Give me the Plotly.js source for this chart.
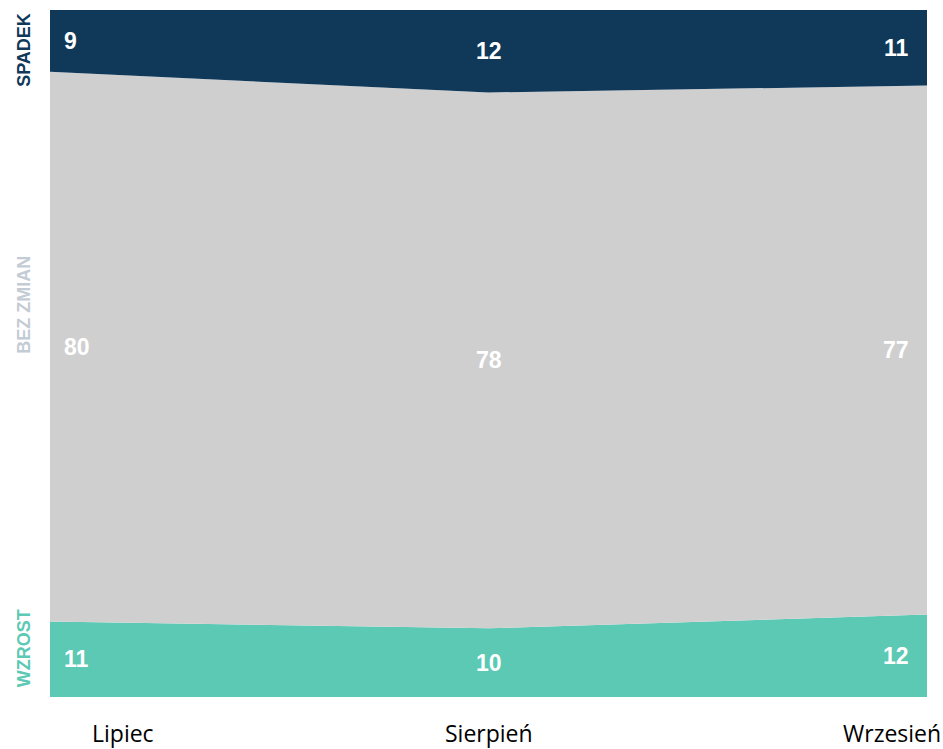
<!DOCTYPE html>
<html>
<head>
<meta charset="utf-8">
<script src="https://cdn.plot.ly/plotly-3.0.1.min.js"></script>
<style>
  html, body { margin: 0; padding: 0; background: #ffffff; }
  #chart { width: 943px; height: 749px; }
</style>
</head>
<body>
<div id="chart"></div>
<script>
// Months on the horizontal axis
const months = ['Lipiec', 'Sierpień', 'Wrzesień'];

// Share of answers (%) per month, stacked bottom to top
const wzrost   = [11, 10, 12];
const bezZmian = [80, 78, 77];
const spadek   = [9, 12, 11];

const seriesNames  = ['WZROST', 'BEZ ZMIAN', 'SPADEK'];
const seriesValues = [wzrost, bezZmian, spadek];
const fillColors   = ['#5bc9b4', '#d0cfd0', '#0f3859'];
const sideColors   = ['#5bc9b4', '#c3ccd5', '#0f3859'];

const traces = seriesValues.map((vals, i) => ({
  type: 'scatter',
  mode: 'none',
  x: months,
  y: vals,
  name: seriesNames[i],
  stackgroup: 'one',
  fillcolor: fillColors[i],
  line: { width: 0 },
  hoverinfo: 'x+y+name'
}));

// Value labels placed in the middle of each band
const annotations = [];
const base = months.map(() => 0);
seriesValues.forEach((vals) => {
  vals.forEach((v, j) => {
    const mid = base[j] + v / 2;
    base[j] += v;
    const anchor = j === 0 ? 'left' : (j === months.length - 1 ? 'right' : 'center');
    const shift = j === 0 ? 12 : (j === months.length - 1 ? -16 : 0);
    annotations.push({
      x: months[j], y: mid, xref: 'x', yref: 'y',
      text: '<b>' + v + '</b>',
      showarrow: false,
      xanchor: anchor, yanchor: 'middle', xshift: shift,
      font: { family: 'Liberation Sans, Arial, sans-serif', size: 23, color: '#ffffff' }
    });
  });
});

// Month names under the plot
months.forEach((m, j) => {
  const anchor = j === 0 ? 'left' : (j === months.length - 1 ? 'right' : 'center');
  const shift = j === 0 ? 40 : (j === months.length - 1 ? 16 : 0);
  annotations.push({
    x: m, y: 0, xref: 'x', yref: 'paper',
    yshift: -36,
    text: m, showarrow: false,
    xanchor: anchor, yanchor: 'middle', xshift: shift,
    font: { family: 'Open Sans, sans-serif', size: 23, color: '#000000' }
  });
});

// Rotated series names along the left side
const sideY = [0.071, 0.571, 0.942];
seriesNames.forEach((n, i) => {
  annotations.push({
    x: 0, y: sideY[i], xref: 'paper', yref: 'paper',
    xshift: -26,
    text: '<b>' + n + '</b>', showarrow: false, textangle: -90,
    xanchor: 'center', yanchor: 'middle',
    font: { family: 'Liberation Sans, Arial, sans-serif', size: 18, color: sideColors[i] }
  });
});

const layout = {
  width: 943, height: 749,
  margin: { l: 50, r: 16, t: 10, b: 52 },
  paper_bgcolor: '#ffffff',
  plot_bgcolor: '#ffffff',
  showlegend: false,
  xaxis: {
    type: 'category', range: [0, 2],
    showticklabels: false, showgrid: false, zeroline: false, showline: false, ticks: ''
  },
  yaxis: {
    range: [0, 100],
    showticklabels: false, showgrid: false, zeroline: false, showline: false, ticks: ''
  },
  annotations: annotations
};

Plotly.newPlot('chart', traces, layout, { displayModeBar: false, staticPlot: true });
</script>
</body>
</html>
